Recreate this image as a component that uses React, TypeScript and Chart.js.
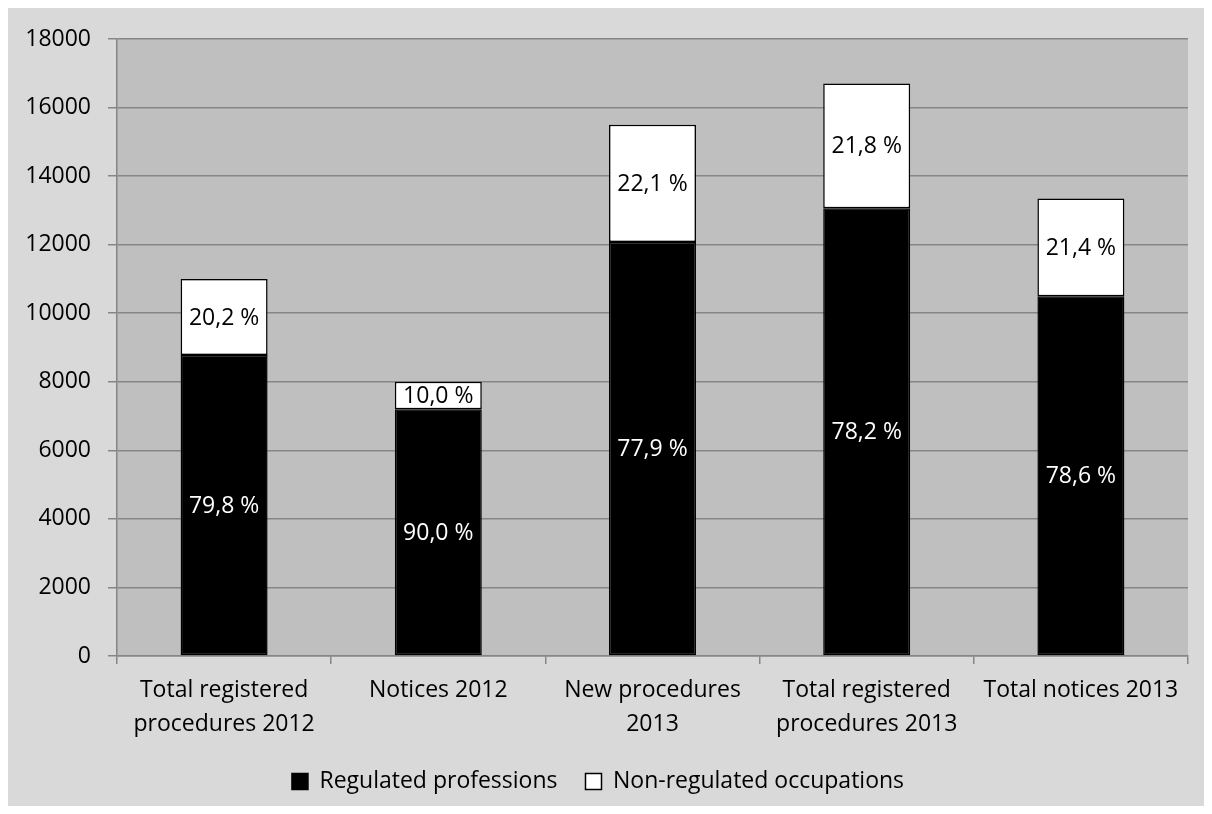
import React, { useEffect, useRef } from "react";
import { Chart, registerables } from "chart.js";

Chart.register(...registerables);

const categories: string[][] = [
  ["Total registered", "procedures 2012"],
  ["Notices 2012"],
  ["New procedures", "2013"],
  ["Total registered", "procedures 2013"],
  ["Total notices 2013"],
];
const regulated: number[] = [8780, 7200, 12075, 13060, 10495];
const nonRegulated: number[] = [2220, 800, 3425, 3640, 2855];
const regulatedPct: number[] = [79.8, 90.0, 77.9, 78.2, 78.6];
const nonRegulatedPct: number[] = [20.2, 10.0, 22.1, 21.8, 21.4];
const yTicks: number[] = [0, 2000, 4000, 6000, 8000, 10000, 12000, 14000, 16000, 18000];
const seriesNames: string[] = ["Regulated professions", "Non-regulated occupations"];

const FONT = "'Open Sans', sans-serif";
const FS = 23;
const fmt = (v: number) => v.toFixed(1).replace(".", ",") + " %";

const plotBg = {
  id: "plotBg",
  beforeDraw(chart: any) {
    const { ctx, chartArea } = chart;
    ctx.save();
    ctx.fillStyle = "#bfbfbf";
    ctx.fillRect(chartArea.left, chartArea.top, chartArea.right - chartArea.left, chartArea.bottom - chartArea.top);
    ctx.restore();
  },
};

const pctLabels = {
  id: "pctLabels",
  afterDatasetsDraw(chart: any) {
    const { ctx } = chart;
    const pcts = [regulatedPct, nonRegulatedPct];
    const colors = ["#ffffff", "#000000"];
    ctx.save();
    ctx.font = `${FS}px ${FONT}`;
    ctx.textAlign = "center";
    ctx.textBaseline = "middle";
    chart.data.datasets.forEach((_ds: any, di: number) => {
      const meta = chart.getDatasetMeta(di);
      meta.data.forEach((el: any, i: number) => {
        const { x, y, base } = el.getProps(["x", "y", "base"], true);
        ctx.fillStyle = colors[di];
        ctx.fillText(fmt(pcts[di][i]), x, (y + base) / 2 + 1);
      });
    });
    ctx.restore();
  },
};

export default function App() {
  const ref = useRef<HTMLCanvasElement>(null);
  useEffect(() => {
    if (!ref.current) return;
    const chart = new Chart(ref.current, {
      type: "bar",
      data: {
        labels: categories,
        datasets: [
          {
            label: seriesNames[0],
            data: regulated,
            backgroundColor: "#000000",
            borderColor: "#000000",
            borderWidth: 1.5,
            borderSkipped: false,
            categoryPercentage: 1,
            barPercentage: 0.406,
          },
          {
            label: seriesNames[1],
            data: nonRegulated,
            backgroundColor: "#ffffff",
            borderColor: "#000000",
            borderWidth: 1.5,
            borderSkipped: false,
            categoryPercentage: 1,
            barPercentage: 0.406,
          },
        ],
      },
      options: {
        responsive: false,
        animation: false,
        layout: { padding: { left: 0, top: 31, right: 16, bottom: 3 } },
        plugins: {
          legend: {
            position: "bottom",
            labels: {
              boxWidth: 16,
              boxHeight: 16,
              padding: 28,
              color: "#000",
              font: { family: FONT, size: FS },
            },
          },
          tooltip: { enabled: false },
        },
        scales: {
          x: {
            stacked: true,
            afterFit: (s: any) => {
              s.height = 86;
            },
            grid: {
              offset: true,
              drawOnChartArea: false,
              drawTicks: true,
              tickLength: 8,
              color: "#868686",
              lineWidth: 1.5,
            },
            border: { color: "#868686", width: 1.5 },
            ticks: {
              color: "#000",
              font: { family: FONT, size: FS, lineHeight: 1.5 },
              padding: 9,
              maxRotation: 0,
              autoSkip: false,
            },
          },
          y: {
            stacked: true,
            min: 0,
            max: 18000,
            afterFit: (s: any) => {
              s.width = 109;
            },
            afterBuildTicks: (s: any) => {
              s.ticks = yTicks.map((v) => ({ value: v }));
            },
            grid: {
              color: "#868686",
              lineWidth: 1.5,
              drawTicks: true,
              tickLength: 9,
            },
            border: { color: "#868686", width: 1.5 },
            ticks: {
              color: "#000",
              font: { family: FONT, size: FS },
              padding: 17,
              callback: (v: any) => String(v),
            },
          },
        },
      },
      plugins: [plotBg, pctLabels],
    });
    return () => chart.destroy();
  }, []);
  return (
    <div style={{ width: 1196, height: 798, background: "#d9d9d9" }}>
      <canvas ref={ref} width={1196} height={798} style={{ display: "block" }} />
    </div>
  );
}
